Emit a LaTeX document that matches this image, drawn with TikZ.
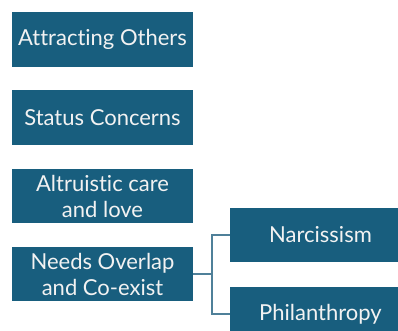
\documentclass[tikz,border=0pt]{standalone}
\usepackage{fontspec}
\setmainfont[Ligatures={NoCommon,NoRare}]{Lato}
\definecolor{boxblue}{HTML}{185E7E}
\definecolor{linkblue}{HTML}{4F8099}
\definecolor{txt}{HTML}{F2F2F2}
\begin{document}
\begin{tikzpicture}[x=1pt,y=-1pt,
  box/.style={rectangle, fill=boxblue, draw=none, text=txt, align=center,
    minimum width=181pt, minimum height=54pt, inner sep=0pt,
    font=\fontsize{22}{26}\selectfont},
  link/.style={draw=linkblue, line width=1.6pt}]
\useasboundingbox (0,0) rectangle (398,331);
\clip (0,0) rectangle (398,331);
\node[box, minimum height=55pt] (a) at (102.5,39.5) {Attracting Others};
\node[box, minimum height=55pt] (s) at (102.5,117.5) {Status Concerns};
\node[box] (c) at (102.5,196) {Altruistic care\\and love};
\node[box] (n) at (102.5,274) {Needs Overlap\\and Co-exist};
\node[box] (r) at (320.5,235) {Narcissism};
\node[box] (p) at (320.5,314) {Philanthropy};
\draw[link] (n.east) -- ++(19,0) coordinate (j);
\draw[link] (r.west) -| (j) |- (p.west);
\end{tikzpicture}
\end{document}
